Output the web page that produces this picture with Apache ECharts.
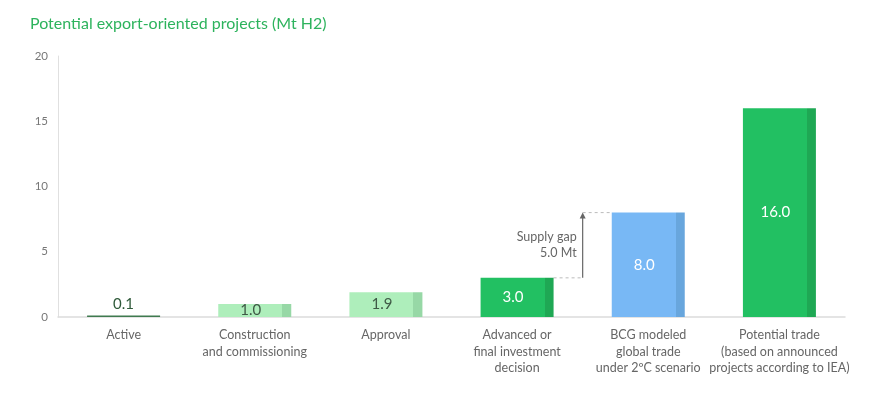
<!DOCTYPE html>
<html><head><meta charset="utf-8">
<script src="https://cdn.jsdelivr.net/npm/echarts@6/dist/echarts.min.js"></script>
<style>html,body{margin:0;padding:0;background:#fff}#c{width:872px;height:396px}</style>
</head><body><div id="c"></div>
<script>
const categories = ['Active','Construction\nand commissioning','Approval','Advanced or\nfinal investment\ndecision','BCG modeled\nglobal trade\nunder 2ºC scenario','Potential trade\n(based on announced\nprojects according to IEA)'];
const values = [0.1, 1.0, 1.9, 3.0, 8.0, 16.0];
const mainColors = ['#3f7a4f','#aeeebb','#aeeebb','#22c062','#78b8f5','#22c062'];
const stripColors = ['#3f7a4f','#97d8a6','#97d8a6','#1fa854','#68a6dd','#1fa854'];
const labelColors = ['#2f5a3a','#3f5a46','#3f5a46','#ffffff','#ffffff','#ffffff'];
const yTicks = [0,5,10,15,20];
const gapFrom = 3, gapTo = 4;
const FONT = 'Lato';

function fill(i){
  const s = 0.877;
  return new echarts.graphic.LinearGradient(0,0,1,0,[
    {offset:0,color:mainColors[i]},{offset:s,color:mainColors[i]},
    {offset:s,color:stripColors[i]},{offset:1,color:stripColors[i]}]);
}
const chart = echarts.init(document.getElementById('c'));
const data = values.map((v,i)=>({
  value:v,
  itemStyle:{color: i===0 ? mainColors[0] : fill(i)},
  label:{
    show:true,
    position: i===0 ? 'top' : 'inside',
    offset: i===0 ? [0,1] : [-4,0],
    color: labelColors[i],
    fontSize: 15,
    fontFamily: FONT,
    formatter: p => Number(p.value).toFixed(1)
  }
}));
chart.setOption({
  animation:false,
  textStyle:{fontFamily:FONT},
  title:{text:'Potential export-oriented projects (Mt H2)',left:25,top:11,
    textStyle:{color:'#2db35d',fontSize:16,fontWeight:'normal',fontFamily:FONT}},
  grid:{left:58,top:56,width:787,bottom:79},
  xAxis:{type:'category',data:categories,
    axisLine:{lineStyle:{color:'#dcdcdc',width:1.5}},axisTick:{show:false},
    axisLabel:{color:'#666',fontSize:12.5,lineHeight:16.5,margin:10,interval:0,fontFamily:FONT}},
  yAxis:{type:'value',min:yTicks[0],max:yTicks[yTicks.length-1],interval:5,
    axisLine:{show:true,lineStyle:{color:'#e0e0e0'}},axisTick:{show:false},
    splitLine:{show:false},
    axisLabel:{color:'#777',fontSize:11.5,margin:10,fontFamily:FONT}},
  series:[{type:'bar',data:data,barWidth:73,barMinHeight:1.5}]
});
function drawGap(){
  const pLow = chart.convertToPixel({seriesIndex:0},[gapFrom, values[gapFrom]]);
  const pHigh = chart.convertToPixel({seriesIndex:0},[gapTo, values[gapTo]]);
  const xMid = (pLow[0]+pHigh[0])/2;
  const half = 73/2;
  const dash = {stroke:'#bbb',lineWidth:1,lineDash:[3,3]};
  const gap = (values[gapTo]-values[gapFrom]).toFixed(1);
  chart.setOption({graphic:[
    {type:'line',shape:{x1:pLow[0]+half,y1:pLow[1],x2:xMid,y2:pLow[1]},style:dash},
    {type:'line',shape:{x1:xMid,y1:pHigh[1],x2:pHigh[0]-half,y2:pHigh[1]},style:dash},
    {type:'line',shape:{x1:xMid,y1:pLow[1],x2:xMid,y2:pHigh[1]+3},style:{stroke:'#666',lineWidth:1.2}},
    {type:'polygon',shape:{points:[[xMid,pHigh[1]],[xMid-3,pHigh[1]+6],[xMid+3,pHigh[1]+6]]},style:{fill:'#666'}},
    {type:'text',x:xMid-6,y:(pLow[1]+pHigh[1])/2,style:{text:'Supply gap\n'+gap+' Mt',
      align:'right',verticalAlign:'middle',fill:'#666',font:'12.5px '+FONT,lineHeight:16}}
  ]});
}
drawGap();
</script></body></html>
